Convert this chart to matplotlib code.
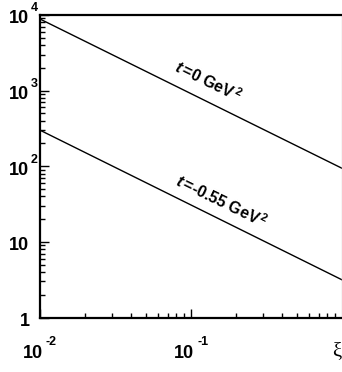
import matplotlib
matplotlib.use("Agg")
import matplotlib.pyplot as plt
from matplotlib.transforms import offset_copy

plt.rcParams['font.family'] = ['Liberation Sans', 'DejaVu Sans']
plt.rcParams['mathtext.fontset'] = 'custom'
plt.rcParams['mathtext.rm'] = 'Liberation Sans:bold'
plt.rcParams['mathtext.it'] = 'Liberation Sans:italic:bold'
plt.rcParams['mathtext.bf'] = 'Liberation Sans:bold'

# values (log-log straight lines)
xi = [0.01, 1.0]
sigma_t0 = [8850, 94]
sigma_t055 = [300, 3.15]

y_ticks = [1, 10, 100, 1000, 10000]
y_base = ['1', '10', '10', '10', '10']
y_exp = ['', '', '2', '3', '4']
x_ticks = [0.01, 0.1]
x_exp = ['-2', '-1']

fig = plt.figure(figsize=(3.42, 3.72), dpi=100)
ax = fig.add_axes([40 / 342, 1 - 317.5 / 372, 302 / 342, 302.5 / 372])

ax.plot(xi, sigma_t0, color='black', lw=1.0)
ax.plot(xi, sigma_t055, color='black', lw=1.0)

ax.set_xscale('log')
ax.set_yscale('log')
ax.set_xlim(0.01, 1.0)
ax.set_ylim(1, 10000)

ax.tick_params(which='both', direction='in', top=False, right=False,
               labelleft=False, labelbottom=False, width=1.0, color='black')
ax.tick_params(which='major', length=6.5)
ax.tick_params(which='minor', length=3.6)
ax.set_yticks(y_ticks)
ax.set_xticks(x_ticks)

for side in ['left', 'bottom', 'top']:
    ax.spines[side].set_linewidth(1.6)
ax.spines['right'].set_color('#cccccc')
ax.spines['right'].set_linewidth(1.0)

# y tick labels
ytr = ax.get_yaxis_transform()
for v, b, e in zip(y_ticks, y_base, y_exp):
    t_base = offset_copy(ytr, fig=fig, x=-10.5, y=-8.3, units='dots')
    ax.text(0, v, b, transform=t_base, ha='right', va='baseline',
            fontsize=13, fontweight='bold')
    if e:
        t_exp = offset_copy(ytr, fig=fig, x=-9, y=3.7, units='dots')
        ax.text(0, v, e, transform=t_exp, ha='left', va='baseline',
                fontsize=9, fontweight='bold')

# x tick labels
xtr = ax.get_xaxis_transform()
for v, e in zip(x_ticks, x_exp):
    t_base = offset_copy(xtr, fig=fig, x=3.3, y=-40, units='dots')
    ax.text(v, 0, '10', transform=t_base, ha='right', va='baseline',
            fontsize=13, fontweight='bold')
    t_exp = offset_copy(xtr, fig=fig, x=6, y=-27.5, units='dots')
    ax.text(v, 0, e, transform=t_exp, ha='left', va='baseline',
            fontsize=9, fontweight='bold')

# axis title at the right end
t_xi = offset_copy(xtr, fig=fig, x=-10, y=-34, units='dots')
ax.text(1.0, 0, 'ξ', transform=t_xi, ha='left', va='center',
        fontsize=15, family='Liberation Serif')

# curve labels
ax.text(0.1297, 1330, r'$\mathit{t}\,$=0 GeV$^{\,2}$', rotation=-26,
        rotation_mode='anchor', ha='center', va='center',
        fontsize=11.5, fontweight='bold')
ax.text(0.160, 34, r'$\mathit{t}\,$=-0.55 GeV$^{\,2}$', rotation=-26,
        rotation_mode='anchor', ha='center', va='center',
        fontsize=11.5, fontweight='bold')

fig.savefig('out.png', dpi=100)
